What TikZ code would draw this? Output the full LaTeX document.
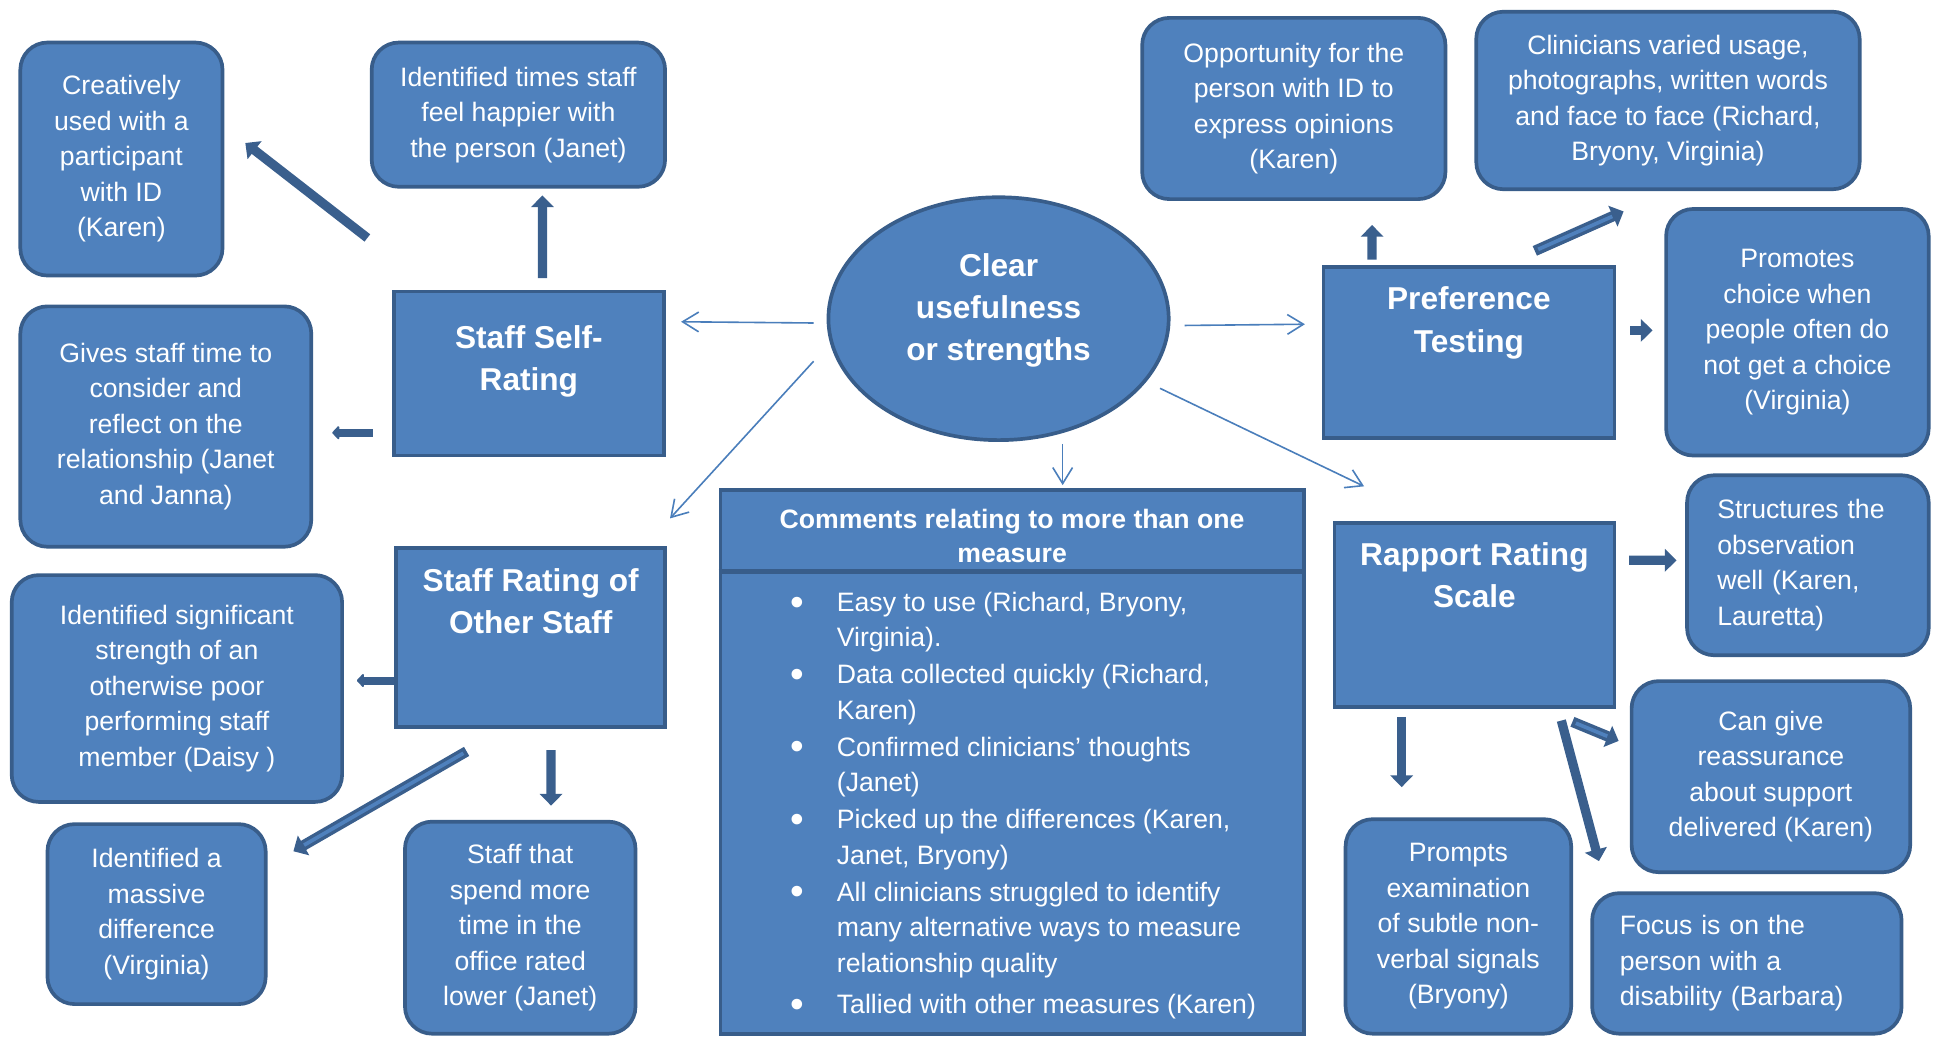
\documentclass[tikz,border=0pt]{standalone}
\usepackage{fontspec}
\setmainfont{Liberation Sans}
\usepackage{tikz}
\usetikzlibrary{positioning,arrows.meta,shapes.geometric}

\definecolor{boxfill}{HTML}{4F81BD}
\definecolor{boxline}{HTML}{385D8A}
\definecolor{linkblue}{HTML}{4A7EBB}
\definecolor{arrowdark}{HTML}{3A5F8D}

\newcommand{\bodyfont}{\fontsize{12.3}{16.4}\selectfont}
\newcommand{\headfont}{\fontsize{14.6}{19.4}\selectfont\bfseries}
\newcommand{\bulletmark}{\makebox[7.6mm][l]{\raisebox{-0.25ex}{\fontsize{18}{18}\selectfont\textbullet}}}
\newcommand{\carryon}{\hspace*{7.6mm}}

\begin{document}
\begin{tikzpicture}[x=0.2mm,y=-0.2mm,
        note/.style={draw=boxline, fill=boxfill, line width=0.6mm,
                     rounded corners=4.4mm, text=white, font=\bodyfont,
                     align=center, inner sep=0pt},
        measure/.style={draw=boxline, fill=boxfill, line width=0.6mm},
        heading/.style={text=white, font=\headfont, align=center, inner sep=0pt},
        link/.style={draw=linkblue, line width=0.26mm,
                     -{Straight Barb[length=2.6mm,width=3.2mm]}},
        blockarrow/.style={draw=arrowdark, line width=1.5mm,
                     -{Triangle[length=1.9mm,width=3.6mm]}},
        stub/.style={blockarrow, line width=1.3mm,
                     -{Triangle[length=1.2mm,width=2.5mm,round]}},
        hollowarrow/.style={blockarrow, line width=1.7mm,
                     postaction={draw=boxfill, line width=0.6mm, arrows=-,
                                 shorten >=2mm, shorten <=0.6mm}}]
  \useasboundingbox (0,0) rectangle (1568,842);

  % centre
  \node[measure, ellipse, minimum width=55.2mm, minimum height=39.4mm] (clear) at (810,258.5) {};
  \node[heading, below=9.3mm of clear.north] (clear-t) {Clear\\usefulness\\or strengths};

  % the four measures
  \node[measure, minimum width=43.8mm, minimum height=26.6mm] (selfrate) at (429,303) {};
  \node[heading, below=5.8mm of selfrate.north] (selfrate-t) {Staff Self-\\Rating};
  \node[measure, minimum width=43.6mm, minimum height=29mm] (otherstaff) at (430.5,517) {};
  \node[heading, below=3.5mm of otherstaff.north] (otherstaff-t) {Staff Rating of\\Other Staff};
  \node[measure, minimum width=47.2mm, minimum height=27.8mm] (preference) at (1191.5,286) {};
  \node[heading, below=3.5mm of preference.north] (preference-t) {Preference\\Testing};
  \node[measure, minimum width=45.4mm, minimum height=29.8mm] (rapport) at (1196,499) {};
  \node[heading, below=3.4mm of rapport.north] (rapport-t) {Rapport Rating\\Scale};

  % comments box with its header
  \node[measure, minimum width=94.6mm, minimum height=88.2mm] (comments) at (821,618) {};
  \draw[draw=boxline, line width=0.7mm] ([shift={(0,67.5)}]comments.north west)
    -- ([shift={(0,67.5)}]comments.north east);
  \node[text=white, font=\fontsize{12.3}{15.8}\selectfont\bfseries, align=center,
        inner sep=0pt, below=3.3mm of comments.north] (comments-t)
    {Comments relating to more than one\\measure};
  \node[text=white, font=\fontsize{12.3}{16.3}\selectfont, align=left, inner sep=0pt,
        anchor=north west] (points) at ([shift={(57.5,84)}]comments.north west) {%
    \bulletmark Easy to use (Richard, Bryony,\\ \carryon Virginia).\\[0.3mm]
    \bulletmark Data collected quickly (Richard,\\ \carryon Karen)\\[0.3mm]
    \bulletmark Confirmed clinicians’ thoughts\\ \carryon (Janet)\\[0.3mm]
    \bulletmark Picked up the differences (Karen,\\ \carryon Janet, Bryony)\\[0.3mm]
    \bulletmark All clinicians struggled to identify\\ \carryon many alternative ways to measure\\
    \carryon relationship quality\\[1mm]
    \bulletmark Tallied with other measures (Karen)};

  % comments around each measure
  \node[note, minimum width=32.8mm, minimum height=37.8mm] (creative) at (98.5,129)
    {Creatively\\used with a\\participant\\with ID\\(Karen)};
  \node[note, minimum width=47.6mm, minimum height=23.4mm] (idtimes) at (420.5,93)
    {Identified times staff\\feel happier with\\the person (Janet)};
  \node[note, minimum width=47.2mm, minimum height=39mm] (reflect) at (134.5,346)
    {Gives staff time to\\consider and\\reflect on the\\relationship (Janet\\and Janna)};
  \node[note, minimum width=53.6mm, minimum height=36.8mm] (strength) at (143.5,558.5)
    {Identified significant\\strength of an\\otherwise poor\\performing staff\\member (Daisy )};
  \node[note, minimum width=35.4mm, minimum height=29.2mm] (massive) at (127,741.5)
    {Identified a\\massive\\difference\\(Virginia)};
  \node[note, minimum width=37.4mm, minimum height=34.4mm] (office) at (422,752.5)
    {Staff that\\spend more\\time in the\\office rated\\lower (Janet)};
  \node[note, minimum width=49.2mm, minimum height=29.4mm] (voice) at (1049.5,88)
    {Opportunity for the\\person with ID to\\express opinions\\(Karen)};
  \node[note, minimum width=62.2mm, minimum height=28.8mm] (usage) at (1353,81.5)
    {Clinicians varied usage,\\photographs, written words\\and face to face (Richard,\\Bryony, Virginia)};
  \node[note, minimum width=42.6mm, minimum height=40mm] (choice) at (1458,269.5)
    {Promotes\\choice when\\people often do\\not get a choice\\(Virginia)};
  \node[note, minimum width=39.2mm, minimum height=29.2mm, text width=29.4mm, align=left]
    (structure) at (1466.5,458.5)
    {Structures the\\observation\\well (Karen,\\Lauretta)};
  \node[note, minimum width=45.2mm, minimum height=31mm] (reassure) at (1436.5,630)
    {Can give\\reassurance\\about support\\delivered (Karen)};
  \node[note, minimum width=36.6mm, minimum height=34.8mm] (nonverbal) at (1183,751.5)
    {Prompts\\examination\\of subtle non-\\verbal signals\\(Bryony)};
  \node[note, minimum width=50.2mm, minimum height=22.8mm, text width=41.2mm, align=left]
    (focus) at (1417,781.5)
    {Focus is on the\\person with a\\disability (Barbara)};

  % thin links out of the centre
  \draw[link] ([shift={(-10.5,3.5)}]clear.west) -- ([shift={(12.5,-42)}]selfrate.east);
  \draw[link] ([shift={(11.5,5.5)}]clear.east) -- ([shift={(-13.5,-23)}]preference.west);
  \draw[link] ([shift={(-10.5,34.5)}]clear.west) -- ([shift={(2.5,-22.5)}]otherstaff.north east);
  \draw[link] ([shift={(52,1.5)}]clear.south) -- ([shift={(41,-2.5)}]comments.north);
  \draw[link] ([shift={(-8.5,56.5)}]clear.east) -- ([shift={(25.5,-28.5)}]rapport.north west);

  % block arrows
  \draw[blockarrow] ([shift={(-20,-42)}]selfrate.north west) -- ([shift={(17,-13)}]creative.east);
  \draw[blockarrow] ([shift={(11,-9.5)}]selfrate.north) -- ([shift={(19.5,5.5)}]idtimes.south);
  \draw[stub] ([shift={(-15.5,48)}]selfrate.west) -- ([shift={(15.5,5)}]reflect.east);
  \draw[stub] ([shift={(0,35)}]otherstaff.west) -- ([shift={(10.5,-6.5)}]strength.east);
  \draw[hollowarrow] ([shift={(-52,18.5)}]otherstaff.south) -- ([shift={(21,23.5)}]massive.north east);
  \draw[blockarrow] ([shift={(16.5,17.5)}]otherstaff.south) -- ([shift={(25,-11.5)}]office.north);
  \draw[blockarrow] ([shift={(-78.5,-4.5)}]preference.north) -- ([shift={(63.5,19.5)}]voice.south);
  \draw[hollowarrow] ([shift={(53.5,-11.5)}]preference.north) -- ([shift={(-36,16.5)}]usage.south);
  \draw[blockarrow] ([shift={(11.5,-18)}]preference.east) -- ([shift={(-9.5,-1.5)}]choice.west);
  \draw[blockarrow] ([shift={(10.5,-44.5)}]rapport.east) -- ([shift={(-7,-4)}]structure.west);
  \draw[hollowarrow] ([shift={(-35.5,10.5)}]rapport.south east) -- ([shift={(-9,-29)}]reassure.west);
  \draw[blockarrow] ([shift={(-44.5,9.5)}]rapport.south east) -- ([shift={(7,-24.5)}]focus.north west);
  \draw[blockarrow] ([shift={(-59,6.5)}]rapport.south) -- ([shift={(-46,-24.5)}]nonverbal.north);
\end{tikzpicture}
\end{document}
